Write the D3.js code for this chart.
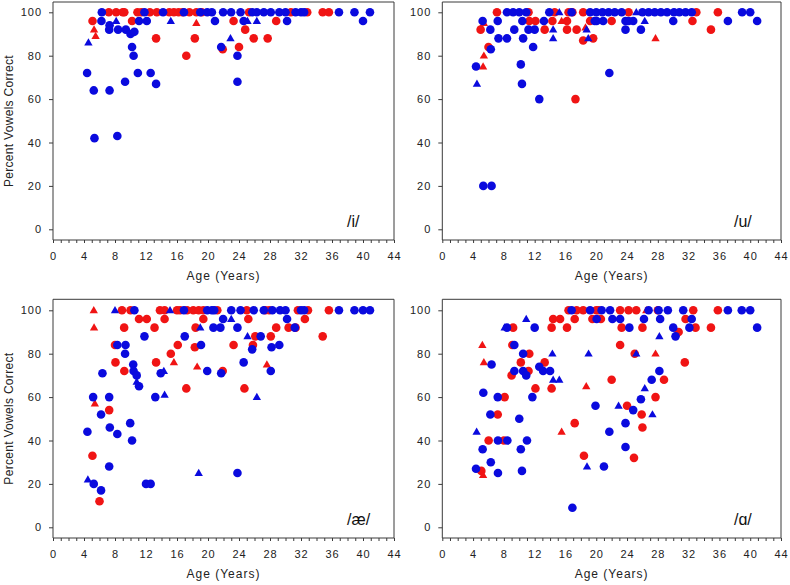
<!DOCTYPE html>
<html><head><meta charset="utf-8">
<script src="https://cdn.jsdelivr.net/npm/d3@7"></script>
<style>
html,body{margin:0;padding:0;background:#fff;}
svg{display:block;font-family:"Liberation Sans",Arial,sans-serif;}
</style></head>
<body>
<svg id="chart" width="790" height="585"></svg>
<script>
// ---------- DATA: [age (years), percent vowels correct] ----------
const xTickLabels = [0,4,8,12,16,20,24,28,32,36,40,44];
const yTickLabels = [0,20,40,60,80,100];
const vowelLabels = ["/i/","/u/","/æ/","/ɑ/"];

// /i/
const iRedCircles = [[5.1,96],[7.2,100],[8.15,100],[9.0,100],[9.2,100],[10.2,96],[10.9,100],[11.4,100],[12.5,100],[13.3,88],[13.4,100],[15.0,100],[15.6,100],[16.2,100],[16.7,100],[17.2,80],[17.6,100],[18.3,88],[18.5,100],[19.2,100],[21.9,83],[23.3,96],[24.0,84],[24.8,92],[25.3,100],[25.9,88],[27.7,88],[28.8,96],[30.7,100],[32.8,100],[34.8,100],[35.6,100]];
const iRedTriangles = [[5.3,92],[5.5,89],[18.5,95]];
const iBlueCircles = [[4.4,72],[5.26,64],[5.35,42],[6.3,100],[6.25,96],[7.3,94],[7.25,92],[7.3,64],[8.4,92],[8.3,43],[9.3,68],[9.4,92],[10.0,90],[10.5,91],[10.2,84],[10.4,80],[10.95,72],[11.1,96],[11.8,100],[12.1,96],[12.6,72],[13.3,67],[14.2,100],[16.9,100],[19.0,100],[19.9,100],[20.5,100],[20.9,96],[21.7,84],[21.95,100],[22.98,100],[23.8,80],[23.8,68],[24.2,100],[24.6,96],[25.7,100],[26.3,100],[27.2,100],[28.1,100],[29.2,100],[30.0,100],[30.2,96],[31.3,100],[32.0,100],[32.4,100],[36.9,100],[38.9,100],[40.0,96],[40.9,100]];
const iBlueTriangles = [[4.57,86],[8.15,96],[15.2,96],[22.9,88],[25.1,96],[26.3,96]];

// /u/
const uRedCircles = [[4.98,92],[6.0,84],[7.1,100],[11.2,100],[11.3,96],[12.1,96],[13.3,92],[14.3,96],[14.6,100],[16.2,96],[16.2,92],[16.4,100],[16.9,100],[17.3,60],[17.45,92],[18.3,100],[18.3,87],[19.2,96],[19.6,88],[22.0,96],[24.2,100],[32.5,96],[33.0,100],[34.9,92],[35.8,100]];
const uRedTriangles = [[5.4,95],[5.4,80],[5.3,75],[15.5,96],[18.6,93],[27.7,88]];
const uBlueCircles = [[4.38,75],[5.24,96],[5.33,20],[6.4,20],[6.3,83],[6.24,92],[7.2,96],[7.3,88],[8.4,100],[8.4,88],[9.2,100],[9.35,92],[10.0,100],[10.9,100],[10.4,96],[10.5,88],[10.2,76],[10.35,67],[11.2,92],[12.0,92],[11.8,84],[12.6,60],[13.2,96],[13.9,100],[16.8,100],[19.2,100],[19.8,96],[20.0,100],[20.05,96],[20.9,96],[20.8,100],[21.7,72],[21.6,100],[22.4,100],[23.3,100],[23.8,96],[23.8,92],[24.2,96],[24.8,96],[25.8,92],[26.0,100],[26.8,100],[27.6,100],[28.4,100],[29.2,100],[30.0,96],[30.1,100],[30.8,100],[31.6,100],[32.4,100],[37.1,96],[38.95,100],[40.0,100],[40.9,96]];
const uBlueTriangles = [[4.5,67],[14.4,92],[14.4,88],[15.2,100],[18.75,92],[18.96,88],[25.2,100],[26.3,96]];

// /æ/
const aeRedCircles = [[5.09,33],[6.0,12],[7.25,54],[8.0,84],[8.06,76],[8.9,100],[9.18,92],[9.2,72],[10.0,100],[11.1,96],[12.1,96],[13.1,92],[13.3,76],[13.8,100],[14.4,100],[14.4,96],[15.2,80],[16.0,100],[16.1,84],[16.4,100],[17.3,100],[17.2,64],[18.1,100],[18.3,83],[18.4,92],[18.8,100],[19.4,100],[19.4,96],[21.2,100],[21.9,72],[23.3,84],[25.0,100],[25.2,96],[25.8,84],[26.1,88],[27.4,100],[27.9,100],[28.1,88],[28.8,92],[24.7,64],[30.4,92],[31.3,92],[31.6,100],[32.5,96],[32.9,100],[34.8,88],[35.6,100]];
const aeRedTriangles = [[5.26,100],[5.3,92],[5.4,57],[15.6,76],[18.6,74],[27.6,75]];
const aeBlueCircles = [[4.44,44],[5.18,60],[5.26,20],[6.2,52],[6.2,17],[6.38,71],[7.25,60],[7.33,46],[7.25,28],[8.3,84],[8.3,43],[9.36,84],[9.3,80],[9.96,48],[10.2,40],[10.35,75],[10.4,72],[10.5,100],[10.8,70],[11.1,65],[11.8,88],[12.0,20],[12.6,20],[13.2,60],[13.9,71],[16.9,100],[17.0,88],[19.1,84],[19.9,72],[19.9,100],[20.5,100],[20.7,92],[20.8,100],[21.6,92],[21.7,71],[21.95,96],[23.0,100],[23.8,92],[23.8,25],[24.2,100],[24.6,76],[25.7,82],[25.9,100],[26.8,88],[27.2,100],[28.1,72],[28.2,83],[28.3,100],[29.2,84],[29.3,100],[30.0,100],[30.2,96],[31.2,92],[32.0,100],[32.4,100],[36.9,100],[38.9,100],[40.0,100],[40.9,100]];
const aeBlueTriangles = [[4.5,22],[8.0,100],[10.8,67],[14.3,72],[14.4,61],[15.1,100],[18.8,25],[19.0,92],[23.0,96],[25.1,88],[26.3,60]];

// /ɑ/
const aRedCircles = [[5.07,26],[6.02,40],[7.2,52],[8.1,60],[8.0,40],[9.2,92],[9.0,70],[9.1,84],[10.2,76],[11.2,72],[11.3,80],[12.1,64],[13.3,76],[14.2,64],[14.2,92],[14.4,96],[15.3,96],[16.2,92],[16.4,100],[17.2,96],[17.2,48],[17.45,100],[18.3,100],[18.4,33],[19.5,96],[20.0,100],[20.3,100],[20.6,96],[22.0,68],[23.1,100],[23.1,84],[23.3,92],[24.0,56],[24.2,100],[24.9,32],[25.0,80],[25.2,100],[25.9,52],[26.0,92],[26.0,46],[27.7,60],[28.0,100],[28.8,68],[30.7,90],[31.5,76],[31.6,96],[32.6,100],[32.9,92],[34.9,92],[35.8,100]];
const aRedTriangles = [[5.2,84],[5.4,76],[5.3,24],[15.5,44],[18.7,65],[26.5,100],[27.7,80]];
const aBlueCircles = [[4.38,27],[5.24,36],[5.33,62],[6.24,52],[6.3,30],[6.4,75],[7.2,60],[7.23,40],[7.23,25],[8.4,92],[8.45,40],[9.36,72],[9.36,84],[10.0,50],[10.2,36],[10.35,26],[10.5,80],[10.5,72],[10.9,70],[11.0,40],[11.7,60],[12.0,92],[12.6,74],[13.1,72],[14.0,72],[16.8,100],[16.9,9],[19.2,100],[19.9,56],[20.05,96],[20.7,100],[21.0,28],[21.7,44],[21.8,100],[22.1,96],[23.1,96],[23.8,48],[23.8,37],[24.3,92],[24.8,54],[25.8,59],[26.2,96],[26.8,100],[27.2,68],[28.1,100],[28.2,72],[28.3,96],[29.3,100],[30.0,92],[30.3,88],[31.3,100],[32.1,92],[32.4,96],[37.1,100],[38.9,100],[40.0,100],[40.9,92]];
const aBlueTriangles = [[4.46,44],[8.1,92],[10.9,96],[14.3,80],[14.4,68],[15.2,68],[18.8,28],[19.0,80],[22.9,56],[25.2,80],[26.3,64],[27.3,52],[28.2,88]];

// ---------- LAYOUT ----------
const RED = "#f01414", BLUE = "#0a0ade", AXIS = "#3a3a3a";
const svg = d3.select("#chart");

const panels = [
  {label: vowelLabels[0], x0: 53,  x1: 394, top: 2,   bot: 240, y100: 12.3,  y0: 229.3, data:[iRedCircles,iRedTriangles,iBlueCircles,iBlueTriangles]},
  {label: vowelLabels[1], x0: 442.3, x1: 781, top: 2,   bot: 240, y100: 12.3,  y0: 229.3, data:[uRedCircles,uRedTriangles,uBlueCircles,uBlueTriangles]},
  {label: vowelLabels[2], x0: 53,  x1: 394, top: 299.3, bot: 538, y100: 310.3, y0: 527.3, data:[aeRedCircles,aeRedTriangles,aeBlueCircles,aeBlueTriangles]},
  {label: vowelLabels[3], x0: 442.3, x1: 781, top: 299.3, bot: 538, y100: 310.3, y0: 527.3, data:[aRedCircles,aRedTriangles,aBlueCircles,aBlueTriangles]}
];

const tri = d3.symbol().type(d3.symbolTriangle).size(30);

panels.forEach(p => {
  const x = d3.scaleLinear().domain([0,44]).range([p.x0,p.x1]);
  const y = d3.scaleLinear().domain([0,100]).range([p.y0,p.y100]);
  const g = svg.append("g");

  // frame (top & right)
  g.append("path").attr("d", `M${p.x0},${p.top}H${p.x1}V${p.bot}`)
    .attr("fill","none").attr("stroke",AXIS).attr("stroke-width",1);

  // y axis
  const ya = g.append("g").attr("transform",`translate(${p.x0},0)`)
    .call(d3.axisLeft(y).tickValues(yTickLabels).tickSize(4).tickPadding(7).tickFormat(d3.format("d")));
  ya.select(".domain").attr("d",`M0,${p.top}V${p.bot}`).attr("stroke",AXIS);
  ya.selectAll(".tick line").attr("stroke",AXIS);
  ya.selectAll("text").attr("font-size",11).attr("fill","#222").style("letter-spacing","1px");

  // x axis: minor ticks every year, labels every 4
  const xa = g.append("g").attr("transform",`translate(0,${p.bot})`)
    .call(d3.axisBottom(x).tickValues(d3.range(0,45,1)).tickSize(3).tickPadding(9)
      .tickFormat(d => xTickLabels.includes(d) ? d : ""));
  xa.select(".domain").attr("d",`M${p.x0},0H${p.x1}`).attr("stroke",AXIS);
  xa.selectAll(".tick line").attr("stroke",AXIS);
  xa.selectAll("text").attr("font-size",11).attr("fill","#222").style("letter-spacing","1px");

  // axis titles
  g.append("text").attr("x",(p.x0+p.x1)/2).attr("y",p.bot+40)
    .attr("text-anchor","middle").attr("font-size",12).attr("fill","#222")
    .style("letter-spacing","1px").text("Age (Years)");
  if (p.x0 < 100) {
    g.append("text").attr("transform",`translate(13,${(p.top+p.bot)/2}) rotate(-90)`)
      .attr("text-anchor","middle").attr("font-size",12).attr("fill","#222")
      .style("letter-spacing","0.3px").text("Percent Vowels Correct");
  }

  // vowel label
  g.append("text").attr("x",p.x1-47).attr("y",p.bot-13)
    .attr("font-size",16).attr("fill","#111").text(p.label);

  // marks: red first, blue on top
  const [rc, rt, bc, bt] = p.data;
  const draw = (arr, color, shape) => {
    if (shape === "c") {
      g.append("g").selectAll("circle").data(arr).join("circle")
        .attr("cx", d => x(d[0])).attr("cy", d => y(d[1])).attr("r",4.3).attr("fill",color);
    } else {
      g.append("g").selectAll("path").data(arr).join("path")
        .attr("d", tri).attr("transform", d => `translate(${x(d[0])},${y(d[1])+0.5})`).attr("fill",color);
    }
  };
  draw(rc, RED, "c");
  draw(rt, RED, "t");
  draw(bc, BLUE, "c");
  draw(bt, BLUE, "t");
});
</script>
</body></html>
